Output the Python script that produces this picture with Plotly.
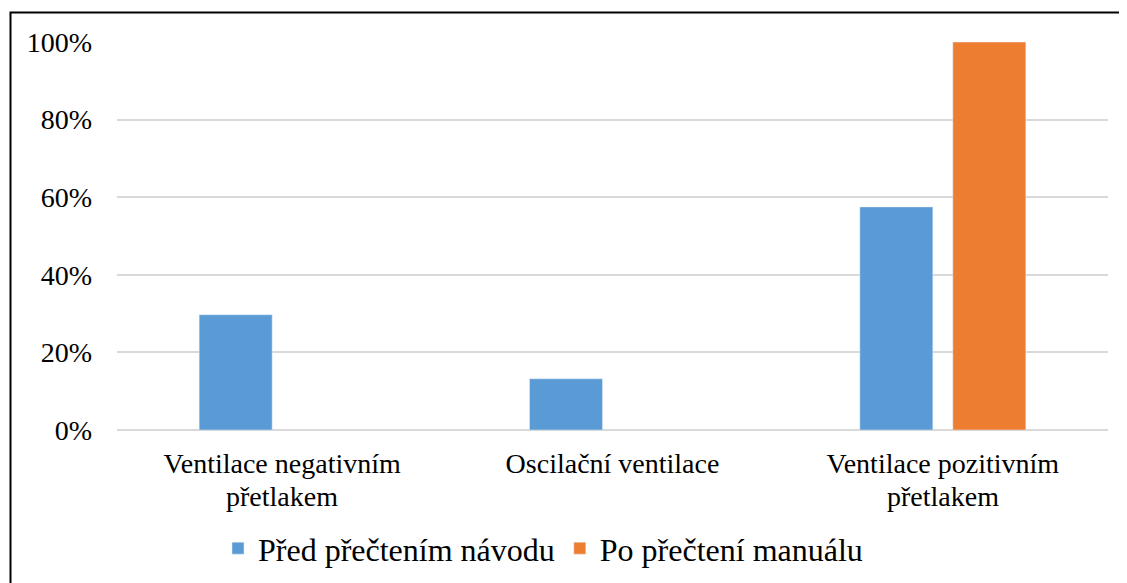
import plotly.graph_objects as go

categories = ["Ventilace negativním přetlakem", "Oscilační ventilace", "Ventilace pozitivním přetlakem"]
label_line1 = ["Ventilace negativním", "Oscilační ventilace", "Ventilace pozitivním"]
label_line2 = ["přetlakem", "", "přetlakem"]
series_names = ["Před přečtením návodu", "Po přečtení manuálu"]
pred_values = [0.297, 0.132, 0.575]
po_values = [None, None, 1.0]
colors = ["#5B9BD5", "#ED7D31"]
y_ticks = [0, 0.2, 0.4, 0.6, 0.8, 1.0]
y_tick_labels = ["0%", "20%", "40%", "60%", "80%", "100%"]

OFF = 8  # page body margin
W, H = 1127 - OFF, 583 - OFF
# plot area in reference (window) pixels
PX0, PX1, PY0, PY1 = 117, 1108, 42, 430.5
L, T = PX0 - OFF, PY0 - OFF
R, B = W - (PX1 - OFF), H - (PY1 - OFF)
pw, ph = PX1 - PX0, PY1 - PY0

def px_x(p):
    return (p - PX0) / pw

def px_y(p):
    return (PY1 - p) / ph

FONT = "Liberation Serif, Times New Roman, serif"

fig = go.Figure()
fig.add_trace(go.Bar(x=categories, y=pred_values, name=series_names[0], marker_color=colors[0]))
fig.add_trace(go.Bar(x=categories, y=po_values, name=series_names[1], marker_color=colors[1]))

for cat, l2 in zip(categories, label_line2):
    if l2:
        fig.add_annotation(x=cat, xref="x", y=px_y(497), yref="paper", yanchor="middle",
                           text=l2, showarrow=False, borderpad=0,
                           font=dict(size=28, family=FONT, color="black"))

fig.update_layout(
    width=W, height=H,
    margin=dict(l=L, r=R, t=T, b=B, pad=0, autoexpand=False),
    paper_bgcolor="white", plot_bgcolor="white",
    barmode="group", bargap=0.437, bargroupgap=0.215,
    font=dict(family=FONT, size=28, color="black"),
    xaxis=dict(showgrid=False, showline=False, ticks="", ticklabelstandoff=14,
               tickvals=categories, ticktext=label_line1,
               tickfont=dict(size=28), automargin=False),
    yaxis=dict(range=[0, 1.0], tickvals=y_ticks, ticktext=y_tick_labels,
               showgrid=True, gridcolor="#d9d9d9", gridwidth=2,
               zeroline=True, zerolinecolor="#d9d9d9", zerolinewidth=2,
               showline=False, ticks="", ticklabelstandoff=24, tickfont=dict(size=28),
               automargin=False),
    legend=dict(orientation="h", x=px_x(218), xanchor="left", y=px_y(549), yanchor="middle",
                font=dict(size=32, family=FONT), traceorder="normal"),
    showlegend=True,
)
fig.add_shape(type="rect", xref="paper", yref="paper",
              x0=px_x(10.5), x1=px_x(1160), y0=px_y(12.5), y1=px_y(620),
              line=dict(color="black", width=2), fillcolor="rgba(0,0,0,0)", layer="above")

fig.write_html("out.html")
